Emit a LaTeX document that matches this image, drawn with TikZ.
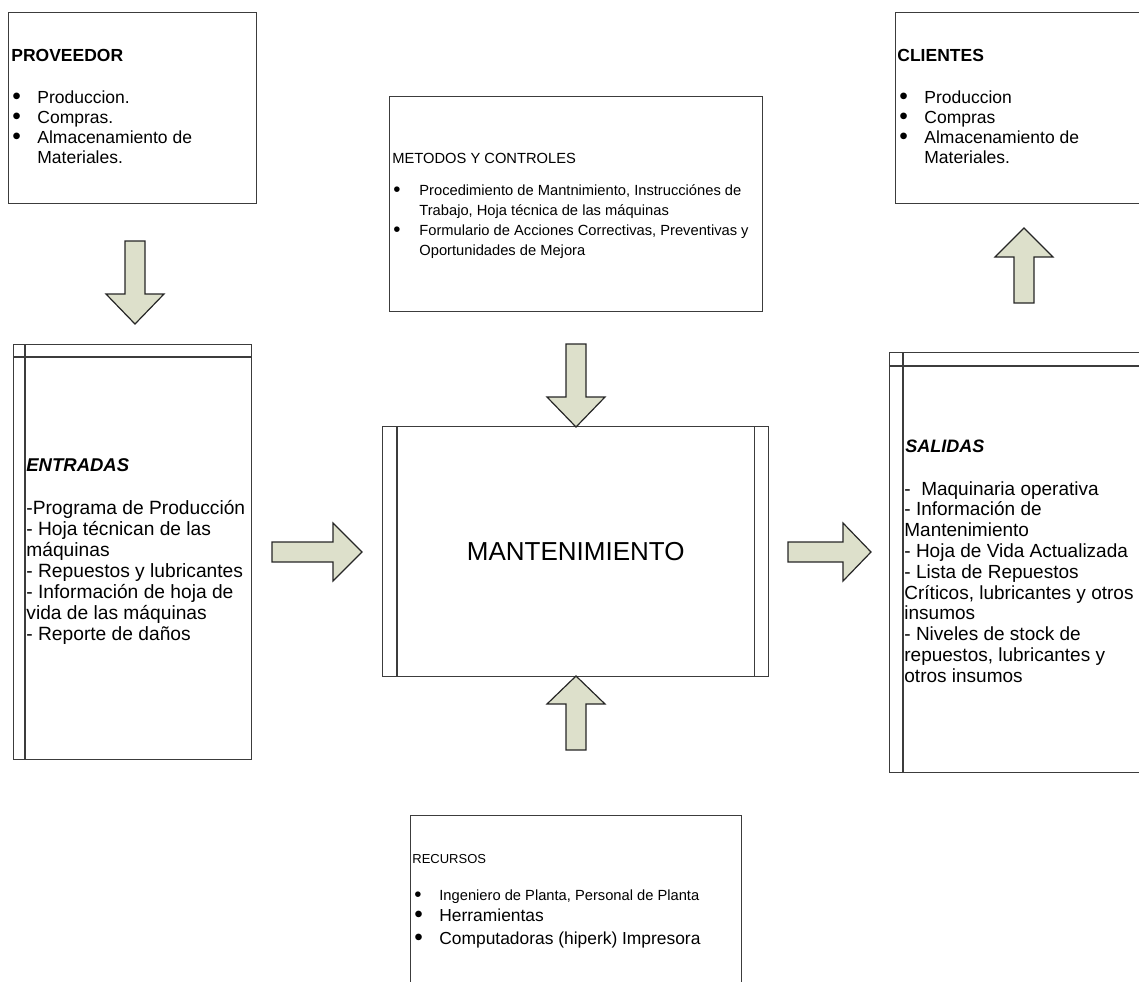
\documentclass[tikz,border=0pt]{standalone}
\usepackage{fontspec}
\usepackage{graphicx}
\setmainfont{Liberation Sans}
\usetikzlibrary{calc}
\definecolor{framegray}{HTML}{3C3C3C}
\definecolor{arrowfill}{HTML}{DDE0CB}
\newcommand\pxfont[2]{\fontsize{#1}{#2}\selectfont}
% heavier list bullet
\newcommand\blt{\raisebox{-0.07em}{\scalebox{1.4}{\textbullet}}}
\begin{document}
\begin{tikzpicture}[x=0.5pt,y=-0.5pt,
  frame/.style={draw=framegray, line width=0.7pt, inner sep=0pt, anchor=north west},
  rule/.style={draw=framegray, line width=0.7pt},
  blockarrow/.style={draw=black!85, line width=0.6pt, fill=arrowfill, line join=miter},
  txt/.style={inner sep=0pt, anchor=base west, align=left},
]
\useasboundingbox (0,0) rectangle (1139,981);
\clip (0,0) rectangle (1139,981);

% boxes
\node[frame, minimum width=248*0.5pt, minimum height=191*0.5pt] (prov) at (8,12) {};
\node[frame, minimum width=373*0.5pt, minimum height=215*0.5pt] (met) at (389,96) {};
\node[frame, minimum width=260*0.5pt, minimum height=191*0.5pt] (cli) at (895,12) {};
\node[frame, minimum width=238*0.5pt, minimum height=415*0.5pt] (ent) at (13,344) {};
\node[frame, minimum width=386*0.5pt, minimum height=250*0.5pt] (mant) at (382,426) {};
\node[frame, minimum width=260*0.5pt, minimum height=420*0.5pt] (sal) at (889,352) {};
\node[frame, minimum width=331*0.5pt, minimum height=180*0.5pt] (rec) at (410,815) {};

% inner rules of the framed boxes
\draw[rule] ($(ent.north west)+(12,0)$) -- ($(ent.south west)+(12,0)$);
\draw[rule] ($(ent.north west)+(0,13)$) -- ($(ent.north east)+(0,13)$);
\draw[rule] ($(sal.north west)+(14,0)$) -- ($(sal.south west)+(14,0)$);
\draw[rule] ($(sal.north west)+(0,14)$) -- ($(sal.north east)+(0,14)$);
\draw[rule] ($(mant.north west)+(15,0)$) -- ($(mant.south west)+(15,0)$);
\draw[rule] ($(mant.north east)+(-15,0)$) -- ($(mant.south east)+(-15,0)$);

% PROVEEDOR
\node[txt, font=\pxfont{8.75pt}{10pt}\bfseries] (provtitle) at (11,61) {PROVEEDOR};
\node[txt, font=\pxfont{8.75pt}{10pt}] (provlist) at (12,103) {\begin{tabular}[t]{@{}p{12.5pt}@{}l@{}}
\blt & Produccion.\\
\blt & Compras.\\
\blt & Almacenamiento de\\
 & Materiales.
\end{tabular}};

% CLIENTES
\node[txt, font=\pxfont{8.75pt}{10pt}\bfseries] (clititle) at (897,61) {CLIENTES};
\node[txt, font=\pxfont{8.75pt}{10pt}] (clilist) at (899,103) {\begin{tabular}[t]{@{}p{12.5pt}@{}l@{}}
\blt & Produccion\\
\blt & Compras\\
\blt & Almacenamiento de\\
 & Materiales.
\end{tabular}};

% METODOS Y CONTROLES
\node[txt, font=\pxfont{7.35pt}{10pt}] (mettitle) at (392,163) {METODOS Y CONTROLES};
\node[txt, font=\pxfont{7.35pt}{10pt}] (metlist) at (393,195) {\begin{tabular}[t]{@{}p{13pt}@{}l@{}}
\blt & Procedimiento de Mantnimiento, Instrucciónes de\\
 & Trabajo, Hoja técnica de las máquinas\\
\blt & Formulario de Acciones Correctivas, Preventivas y\\
 & Oportunidades de Mejora
\end{tabular}};

% ENTRADAS
\node[txt, font=\pxfont{9.25pt}{10.5pt}\bfseries\itshape] (enttitle) at (26,471) {ENTRADAS};
\node[txt, font=\pxfont{9.6pt}{10.5pt}] (entlist) at (26,514) {\begin{tabular}[t]{@{}l@{}}
-Programa de Producción\\
- Hoja técnican de las\\
máquinas\\
- Repuestos y lubricantes\\
- Información de hoja de\\
vida de las máquinas\\
- Reporte de daños
\end{tabular}};

% MANTENIMIENTO
\node[inner sep=0pt, font=\pxfont{13pt}{15pt}] (manttext) at (mant.center) {MANTENIMIENTO};

% SALIDAS
\node[txt, font=\pxfont{9pt}{10.4pt}\bfseries\itshape] (saltitle) at (905,452) {SALIDAS};
\node[txt, font=\pxfont{9.5pt}{10.4pt}] (sallist) at (904,495) {\begin{tabular}[t]{@{}l@{}}
-\ \ Maquinaria operativa\\
- Información de\\
Mantenimiento\\
- Hoja de Vida Actualizada\\
- Lista de Repuestos\\
Críticos, lubricantes y otros\\
insumos\\
- Niveles de stock de\\
repuestos, lubricantes y\\
otros insumos
\end{tabular}};

% RECURSOS
\node[txt, font=\pxfont{6.5pt}{10pt}] (rectitle) at (412,863) {RECURSOS};
\node[txt, font=\pxfont{7.35pt}{10pt}] (rec1) at (414,900) {\makebox[12.5pt][l]{\blt}Ingeniero de Planta, Personal de Planta};
\node[txt, font=\pxfont{8.7pt}{10pt}] (rec2) at (414,921) {\makebox[12.5pt][l]{\blt}Herramientas};
\node[txt, font=\pxfont{8.7pt}{10pt}] (rec3) at (414,944) {\makebox[12.5pt][l]{\blt}Computadoras (hiperk) Impresora};

% block arrows
\draw[blockarrow] (125,241) -- (145,241) -- (145,294) -- (164,294) -- (135,324) -- (106,294) -- (125,294) -- cycle;
\draw[blockarrow] (566,344) -- (586,344) -- (586,397) -- (605,397) -- (576,427) -- (547,397) -- (566,397) -- cycle;
\draw[blockarrow] (566,750) -- (586,750) -- (586,704) -- (605,704) -- (576,676) -- (547,704) -- (566,704) -- cycle;
\draw[blockarrow] (1014,303) -- (1034,303) -- (1034,257) -- (1053,257) -- (1024,228) -- (995,257) -- (1014,257) -- cycle;
\draw[blockarrow] (272,542) -- (333,542) -- (333,523) -- (362,552) -- (333,581) -- (333,562) -- (272,562) -- cycle;
\draw[blockarrow] (788,542) -- (843,542) -- (843,523) -- (871,552) -- (843,581) -- (843,562) -- (788,562) -- cycle;
\end{tikzpicture}
\end{document}
